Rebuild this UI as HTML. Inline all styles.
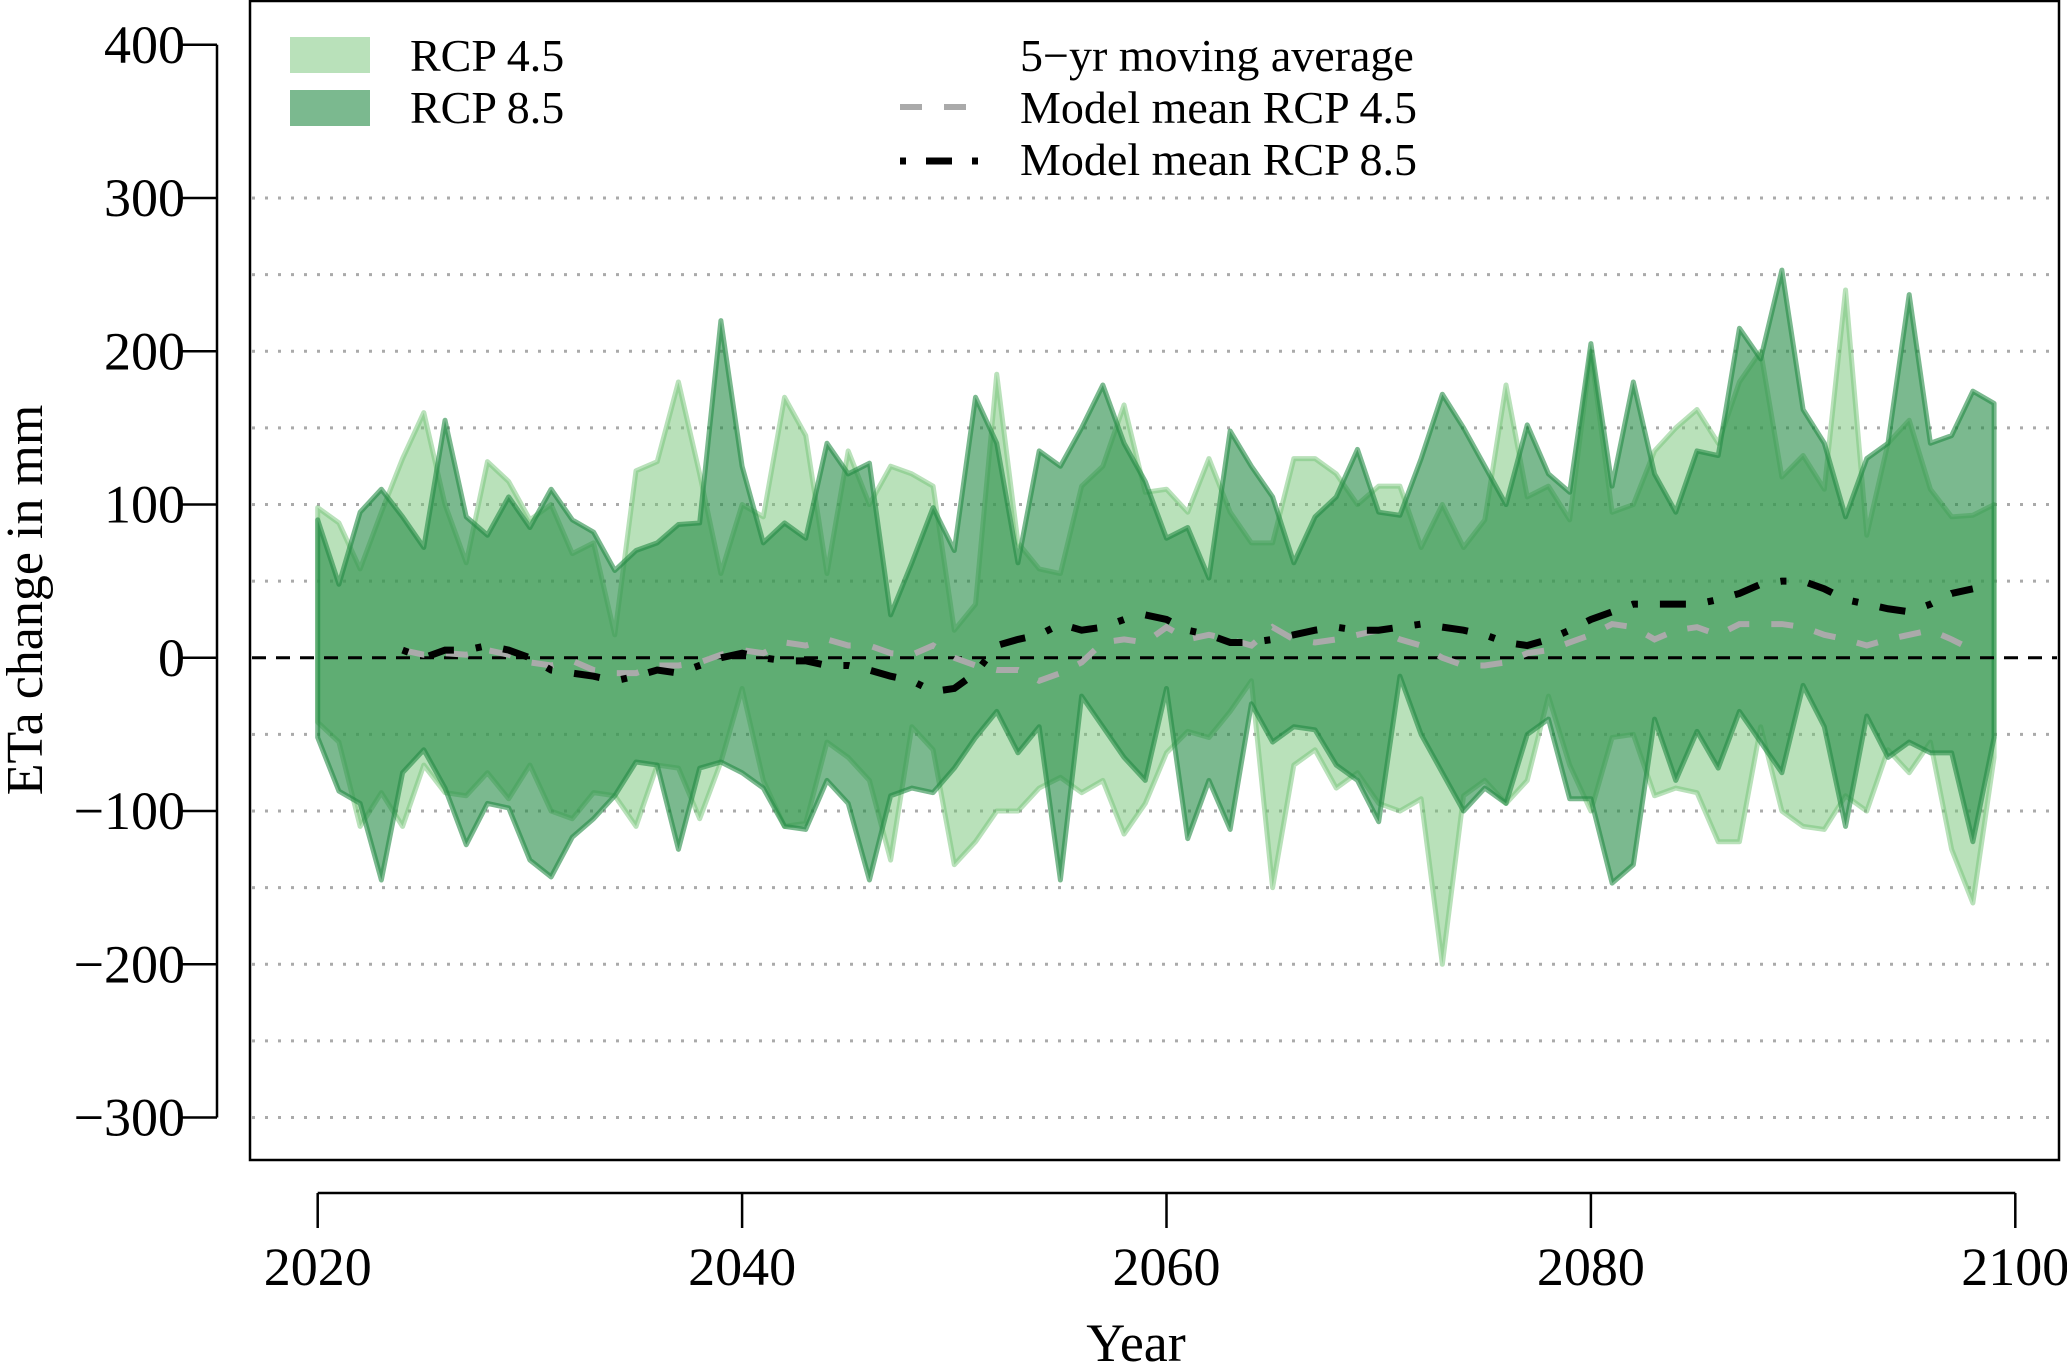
<!DOCTYPE html>
<html><head><meta charset="utf-8"><style>
html,body{margin:0;padding:0;background:#fff;}
svg{display:block;font-family:"Liberation Serif","DejaVu Serif",serif;}
</style></head><body>
<svg id="chart" width="2067" height="1363" viewBox="0 0 2067 1363" xmlns="http://www.w3.org/2000/svg">
<g id="grid"></g>
<g id="bands"></g>
<g id="lines"></g>
<g id="axes"></g>
<g id="legend"></g>
</svg>
<script>
const years = Array.from({length:80},(_,i)=>2020+i);
const rcp85Upper=[90,48,95,110,92,72,155,92,80,105,85,110,90,82,57,70,75,87,88,220,125,75,88,78,140,120,127,28,62,98,70,170,140,62,135,125,150,178,140,115,78,85,52,148,125,105,62,92,105,136,95,93,130,172,150,125,100,152,120,108,205,112,180,120,95,135,132,215,195,253,162,140,92,130,140,237,140,145,174,166];
const rcp45Upper=[98,88,58,95,130,160,100,62,128,115,90,100,68,75,15,122,128,180,120,55,100,92,170,145,55,135,100,125,120,112,18,35,185,75,58,55,112,125,165,108,110,95,130,95,75,75,130,130,120,100,112,112,72,100,72,90,178,105,112,90,200,95,100,135,150,162,140,180,200,118,132,110,240,80,140,155,110,92,93,100];
const rcp85Lower=[-52,-87,-95,-145,-75,-60,-85,-122,-95,-98,-132,-143,-117,-105,-90,-68,-70,-125,-72,-68,-75,-85,-110,-112,-80,-95,-145,-90,-85,-88,-72,-52,-35,-62,-45,-145,-25,-45,-65,-80,-20,-118,-80,-112,-30,-55,-45,-47,-70,-80,-107,-12,-50,-75,-100,-85,-95,-50,-40,-92,-92,-147,-135,-40,-80,-48,-72,-35,-55,-75,-18,-45,-110,-38,-65,-55,-62,-62,-120,-52];
const rcp45Lower=[-42,-55,-110,-88,-110,-70,-88,-90,-75,-92,-70,-100,-105,-88,-90,-110,-70,-72,-105,-68,-20,-80,-110,-108,-55,-65,-80,-132,-45,-60,-135,-120,-100,-100,-85,-78,-88,-80,-115,-95,-62,-48,-52,-35,-15,-150,-70,-60,-85,-75,-95,-100,-92,-200,-90,-80,-95,-80,-25,-70,-100,-52,-50,-90,-85,-88,-120,-120,-45,-100,-110,-112,-90,-100,-60,-75,-55,-125,-160,-65];
const maYears = Array.from({length:75},(_,i)=>2024+i);
const ma45=[5,2,3,2,5,2,-3,-5,-2,-8,-10,-10,-5,-5,-3,2,5,3,10,8,12,8,8,3,2,8,0,-5,-8,-8,-15,-10,-3,10,12,10,20,12,15,12,8,20,12,10,12,15,18,12,8,0,-5,-5,-3,3,5,10,15,22,20,12,18,20,15,22,22,22,20,15,12,8,12,15,18,12,5];
const ma85=[5,0,5,5,8,5,0,-8,-10,-12,-15,-12,-8,-10,-5,0,3,0,-2,-2,-5,-5,-8,-12,-15,-22,-20,-10,8,12,15,22,18,20,25,28,25,18,15,10,10,12,15,18,20,18,18,20,22,20,18,15,10,8,12,18,25,30,35,35,35,35,38,42,48,50,50,45,38,35,32,30,35,42,45];
const yTicks=[400,300,200,100,0,-100,-200,-300];
const xTicks=[2020,2040,2060,2080,2100];
const gridVals=[300,250,200,150,100,50,-50,-100,-150,-200,-250,-300];

const NS="http://www.w3.org/2000/svg";
const X=v=>317.7+(v-2020)*21.22;
const Y=v=>657.8-v*1.5325;
function el(tag,attrs,parent){const e=document.createElementNS(NS,tag);for(const k in attrs)e.setAttribute(k,attrs[k]);parent.appendChild(e);return e;}
const grid=document.getElementById('grid'),bands=document.getElementById('bands'),lines=document.getElementById('lines'),axes=document.getElementById('axes'),legend=document.getElementById('legend');

gridVals.forEach(v=>{const l=el('line',{x1:252,x2:2057,y1:Y(v),y2:Y(v),stroke:'#aaa','stroke-width':3,'stroke-dasharray':'3 10'},grid);

});

function band(up,lo,fill,stroke,name){
  let d='M'+years.map((y,i)=>X(y)+','+Y(up[i])).join(' L');
  d+=' L'+years.map((y,i)=>[X(y),Y(lo[i])]).reverse().map(p=>p.join(',')).join(' L')+' Z';
  const p=el('path',{d:d,fill:fill,stroke:stroke,'stroke-width':5,'stroke-linejoin':'round'},bands);
  
  
}
band(rcp45Upper,rcp45Lower,'rgba(116,196,118,0.5)','rgba(116,196,118,0.5)','rcp45-band');
band(rcp85Upper,rcp85Lower,'rgba(35,139,69,0.6)','rgba(35,139,69,0.6)','rcp85-band');

const z=el('line',{x1:252,x2:2057,y1:Y(0),y2:Y(0),stroke:'#000','stroke-width':3,'stroke-dasharray':'14 10'},lines);


const l45=el('polyline',{points:maYears.map((y,i)=>X(y)+','+Y(ma45[i])).join(' '),fill:'none',stroke:'#aaa','stroke-width':6,'stroke-dasharray':'22 22'},lines);


const l85=el('polyline',{points:maYears.map((y,i)=>X(y)+','+Y(ma85[i])).join(' '),fill:'none',stroke:'#000','stroke-width':7,'stroke-dasharray':'6 22 26 22'},lines);



const fr=el('rect',{x:250,y:1,width:1809,height:1159,fill:'none',stroke:'#000','stroke-width':2.5},axes);


const ya=el('line',{x1:217,x2:217,y1:Y(400),y2:Y(-300),stroke:'#000','stroke-width':2.5},axes);


yTicks.forEach(v=>{
  const t=el('line',{x1:181,x2:217,y1:Y(v),y2:Y(v),stroke:'#000','stroke-width':2.5},axes);
  
  
  const tx=el('text',{x:185,y:Y(v)+18,'text-anchor':'end','font-size':54},axes);
  tx.textContent=(v<0?'\u2212'+(-v):v);
  
  
});
const xa=el('line',{x1:X(2020),x2:X(2100),y1:1193,y2:1193,stroke:'#000','stroke-width':2.5},axes);


xTicks.forEach(v=>{
  const t=el('line',{x1:X(v),x2:X(v),y1:1193,y2:1228,stroke:'#000','stroke-width':2.5},axes);
  
  
  const tx=el('text',{x:X(v),y:1285,'text-anchor':'middle','font-size':54},axes);
  tx.textContent=v;
  
  
});
const xt=el('text',{x:1136,y:1361,'text-anchor':'middle','font-size':54},axes);
xt.textContent='Year';


const yt=el('text',{x:0,y:0,'text-anchor':'middle','font-size':52,transform:'translate(42,600) rotate(-90)'},axes);
yt.textContent='ETa change in mm';



const lp1=el('rect',{x:290,y:37,width:80,height:36,fill:'rgba(116,196,118,0.5)'},legend);


const lp2=el('rect',{x:290,y:90,width:80,height:36,fill:'rgba(35,139,69,0.6)'},legend);


[['RCP 4.5',410,71],['RCP 8.5',410,123],['5\u2212yr moving average',1020,71],['Model mean RCP 4.5',1020,123],['Model mean RCP 8.5',1020,175]].forEach(a=>{
  const t=el('text',{x:a[1],y:a[2],'font-size':46},legend);
  t.textContent=a[0];
  
  
});
const lg1=el('line',{x1:900,x2:982,y1:107,y2:107,stroke:'#aaa','stroke-width':6,'stroke-dasharray':'22 22'},legend);


const lg2=el('line',{x1:900,x2:982,y1:161,y2:161,stroke:'#000','stroke-width':7,'stroke-dasharray':'6 20 26 20'},legend);


</script>
</body></html>
